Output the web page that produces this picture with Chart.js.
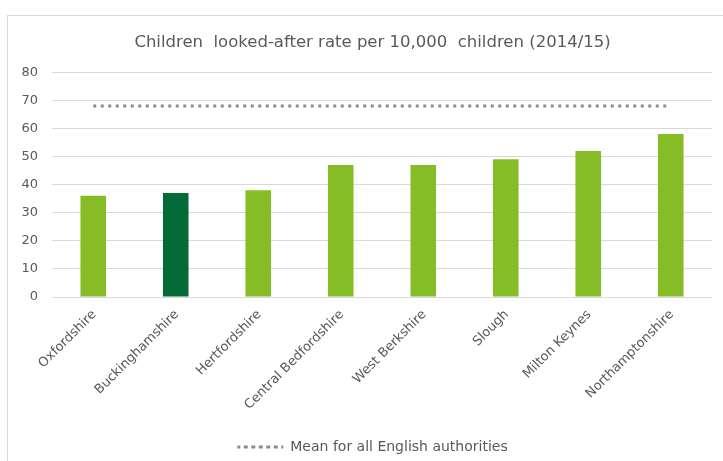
<!DOCTYPE html>
<html>
<head>
<meta charset="utf-8">
<script src="https://cdn.jsdelivr.net/npm/chart.js@4/dist/chart.umd.min.js"></script>
<style>
  html, body { margin: 0; padding: 0; background: #ffffff; overflow: hidden; }
  #frame {
    position: absolute; left: 7px; top: 15px;
    width: 740px; height: 470px;
    border: 1px solid #d9d9d9; background: #ffffff;
  }
  #wrap { position: absolute; left: 0; top: 0; width: 729px; height: 448px; }
</style>
</head>
<body>
<div id="frame"><div id="wrap"><canvas id="c"></canvas></div></div>
<script>
// Local authorities compared (2014/15)
const authorities = ['Oxfordshire', 'Buckinghamshire', 'Hertfordshire', 'Central Bedfordshire',
                     'West Berkshire', 'Slough', 'Milton Keynes', 'Northamptonshire'];
// Children looked-after rate per 10,000 children
const rates = [36, 37, 38, 47, 47, 49, 52, 58];
// Mean rate for all English authorities
const englishMean = 68;
const meanLine = authorities.map(() => englishMean);
const highlighted = 'Buckinghamshire';

const LIGHT_GREEN = '#86bc25';
const DARK_GREEN = '#046a38';
const TEXT = '#595959';
const FONT = 'DejaVu Sans';

new Chart(document.getElementById('c'), {
  data: {
    labels: authorities,
    datasets: [
      {
        type: 'line',
        label: 'Mean for all English authorities',
        data: meanLine,
        borderColor: '#8c8c8c',
        backgroundColor: 'rgba(0,0,0,0)',
        borderWidth: 3,
        borderDash: [3, 4.5],
        pointRadius: 0,
        fill: false,
        order: 0
      },
      {
        type: 'bar',
        label: 'Rate',
        data: rates,
        backgroundColor: authorities.map(a => a === highlighted ? DARK_GREEN : LIGHT_GREEN),
        borderWidth: 0,
        categoryPercentage: 1,
        barPercentage: 0.31,
        order: 1
      }
    ]
  },
  options: {
    responsive: true,
    maintainAspectRatio: false,
    animation: false,
    layout: { padding: 0 },
    plugins: {
      title: {
        display: true,
        text: 'Children  looked-after rate per 10,000  children (2014/15)',
        color: TEXT,
        font: { family: FONT, size: 16.5, weight: 'normal' },
        padding: { top: 17, bottom: 19.4 }
      },
      legend: {
        display: true,
        position: 'bottom',
        labels: {
          filter: item => item.text !== 'Rate',
          color: TEXT,
          font: { family: FONT, size: 14 },
          boxWidth: 46,
          boxHeight: 0,
          padding: 1
        }
      },
      tooltip: { enabled: false }
    },
    scales: {
      x: {
        grid: { display: false },
        border: { display: false },
        ticks: {
          color: TEXT,
          font: { family: FONT, size: 13 },
          maxRotation: 45,
          minRotation: 45,
          labelOffset: 1,
          padding: 2
        },
        afterFit: s => { s.height = 142; }
      },
      y: {
        min: 0,
        max: 80,
        ticks: {
          stepSize: 10,
          color: TEXT,
          font: { family: FONT, size: 13 },
          padding: 14
        },
        grid: { color: '#d9d9d9', lineWidth: 1, drawTicks: false },
        border: { display: false },
        afterFit: s => { s.width = 44; }
      },
      // empty right-hand margin inside the chart frame
      margin: {
        position: 'right',
        display: true,
        ticks: { display: false },
        grid: { display: false },
        border: { display: false },
        afterFit: s => { s.width = 25; }
      }
    }
  }
});
</script>
</body>
</html>
